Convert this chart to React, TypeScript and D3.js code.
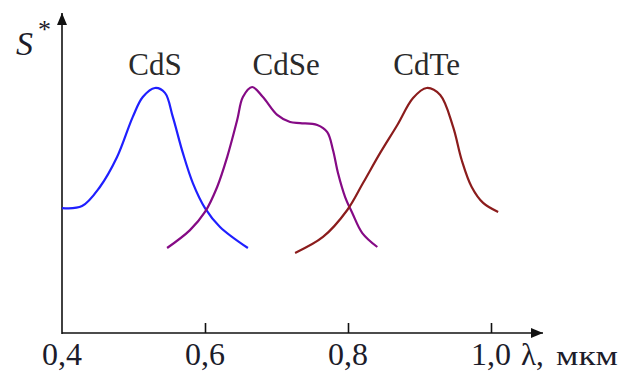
import React, { useEffect, useRef } from 'react';
import * as d3 from 'd3';

// wavelength, µm and relative sensitivity, %
const cdsLambda = [0.4, 0.428, 0.453, 0.477, 0.499, 0.513, 0.53, 0.544, 0.555, 0.569, 0.583, 0.6, 0.621, 0.66];
const cdsS = [51, 51.8, 59.6, 71.8, 88.2, 96.3, 100, 98, 88.2, 73.5, 61.2, 51, 43.3, 34.7];

const cdseLambda = [0.547, 0.579, 0.6, 0.617, 0.631, 0.645, 0.653, 0.666, 0.681, 0.701, 0.719, 0.733, 0.757, 0.771, 0.779, 0.786, 0.796, 0.806, 0.82, 0.841];
const cdseS = [34.7, 42, 49.4, 59.6, 71.8, 86.9, 96.3, 100.4, 96.3, 89, 86.1, 85.7, 84.9, 82, 74.7, 65.3, 55.5, 49, 40.8, 35.1];

const cdteLambda = [0.726, 0.765, 0.799, 0.821, 0.845, 0.869, 0.891, 0.91, 0.929, 0.947, 0.959, 0.973, 0.989, 1.01];
const cdteS = [32.7, 39.2, 50.2, 61.2, 73.5, 84.9, 95.9, 100, 97.1, 84.1, 70.6, 59.6, 53.1, 49.4];

const seriesNames = ['CdS', 'CdSe', 'CdTe'];
const seriesColors = ['#1f1fff', '#850a85', '#8b1c1c'];
const xTicks = [0.4, 0.6, 0.8, 1.0];

const App: React.FC = () => {
  const ref = useRef<SVGSVGElement>(null);

  useEffect(() => {
    if (!ref.current) return;
    const svg = d3.select(ref.current);
    svg.selectAll('*').remove();

    const x = d3.scaleLinear().domain([0.4, 1.0]).range([62, 491]);
    const y = d3.scaleLinear().domain([0, 100]).range([333, 88]);
    const font = "'Liberation Serif'";

    const defs = svg.append('defs');
    defs.append('marker')
      .attr('id', 'arrow')
      .attr('viewBox', '0 0 12 10')
      .attr('refX', 12)
      .attr('refY', 5)
      .attr('markerWidth', 12)
      .attr('markerHeight', 10)
      .attr('markerUnits', 'userSpaceOnUse')
      .attr('orient', 'auto')
      .append('path')
      .attr('d', 'M0,0 L12,5 L0,10 Z')
      .attr('fill', '#111');

    // axes with arrows
    svg.append('line')
      .attr('x1', x(0.4)).attr('y1', y(0))
      .attr('x2', 543).attr('y2', y(0))
      .attr('stroke', '#111').attr('stroke-width', 1.6)
      .attr('marker-end', 'url(#arrow)');
    svg.append('line')
      .attr('x1', x(0.4)).attr('y1', y(0) + 1)
      .attr('x2', x(0.4)).attr('y2', 13)
      .attr('stroke', '#111').attr('stroke-width', 1.6)
      .attr('marker-end', 'url(#arrow)');

    // tick marks pointing up
    const axis = d3.axisBottom(x)
      .tickValues(xTicks.slice(1))
      .tickSize(-10)
      .tickFormat(() => '');
    const g = svg.append('g')
      .attr('transform', `translate(0,${y(0)})`)
      .call(axis);
    g.select('.domain').remove();
    g.selectAll('.tick line').attr('stroke', '#111').attr('stroke-width', 1.6);

    const txt = (sel: any) => sel.style('font-family', font).attr('fill', '#1c1c2a');

    // tick labels
    svg.selectAll('.xlab')
      .data(xTicks)
      .enter()
      .append('text')
      .attr('class', 'xlab')
      .attr('x', (d: number) => x(d))
      .attr('y', 365)
      .attr('text-anchor', 'middle')
      .style('font-size', '32px')
      .call(txt)
      .text((d: number) => d.toFixed(1).replace('.', ','));

    svg.append('text')
      .attr('x', 521)
      .attr('y', 365)
      .style('font-size', '31px')
      .call(txt)
      .text('λ,');
    svg.append('text')
      .attr('x', 556)
      .attr('y', 365)
      .style('font-size', '27px')
      .attr('textLength', 62)
      .attr('lengthAdjust', 'spacingAndGlyphs')
      .call(txt)
      .text('мкм');

    // y label
    svg.append('text')
      .attr('x', 16)
      .attr('y', 55)
      .style('font-style', 'italic')
      .style('font-size', '34px')
      .call(txt)
      .text('S');
    svg.append('text')
      .attr('x', 38)
      .attr('y', 38)
      .style('font-size', '26px')
      .call(txt)
      .text('*');

    // curves
    const line = d3.line<[number, number]>()
      .x((d) => x(d[0]))
      .y((d) => y(d[1]))
      .curve(d3.curveCatmullRom.alpha(0.5));

    const allSeries: [number, number][][] = [
      cdsLambda.map((l, i) => [l, cdsS[i]] as [number, number]),
      cdseLambda.map((l, i) => [l, cdseS[i]] as [number, number]),
      cdteLambda.map((l, i) => [l, cdteS[i]] as [number, number]),
    ];

    allSeries.forEach((data, i) => {
      svg.append('path')
        .datum(data)
        .attr('fill', 'none')
        .attr('stroke', seriesColors[i])
        .attr('stroke-width', 2.2)
        .attr('d', line);

      const peak = data.reduce((a, b) => (b[1] > a[1] ? b : a));
      svg.append('text')
        .attr('x', x(peak[0]) + [0, 34, 0][i])
        .attr('y', 75)
        .attr('text-anchor', 'middle')
        .style('font-size', '31px')
        .call(txt)
        .attr('fill', '#2a2a2a')
        .text(seriesNames[i]);
    });
  }, []);

  return (
    <svg
      ref={ref}
      width={621}
      height={372}
      style={{ position: 'absolute', left: 0, top: 0, background: '#fff' }}
    />
  );
};

export default App;
